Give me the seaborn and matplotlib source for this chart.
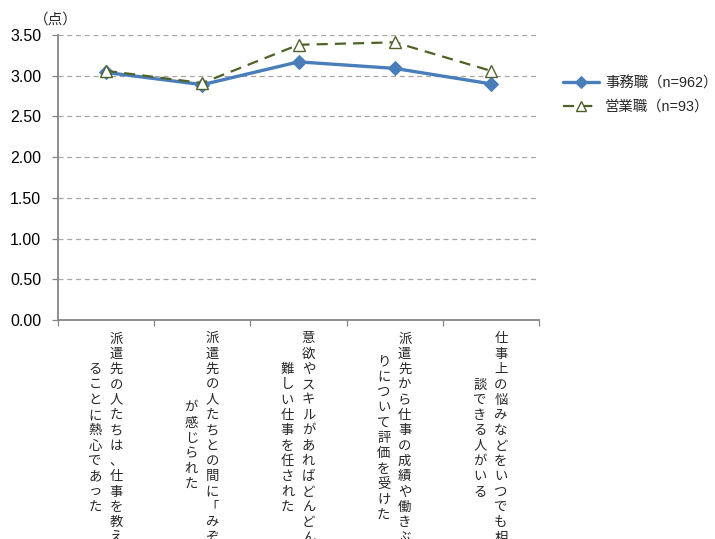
import matplotlib
matplotlib.use("Agg")
import matplotlib.pyplot as plt
import matplotlib.transforms as mtransforms
import seaborn as sns
import pandas as pd

# Survey items (each split into two vertical columns, right column first)
categories = ["仕事を教える熱心さ", "みぞ", "難しい仕事", "評価", "相談相手"]
label_lines = [
    ["派遣先の人たちは、仕事を教え", "ることに熱心であった"],
    ["派遣先の人たちとの間に「みぞ」", "が感じられた"],
    ["意欲やスキルがあればどんどん", "難しい仕事を任された"],
    ["派遣先から仕事の成績や働きぶ", "りについて評価を受けた"],
    ["仕事上の悩みなどをいつでも相", "談できる人がいる"],
]
series_names = ["事務職（n=962）", "営業職（n=93）"]
office_scores = [3.04, 2.89, 3.17, 3.09, 2.90]
sales_scores = [3.06, 2.91, 3.38, 3.41, 3.06]
y_ticks = [0.0, 0.5, 1.0, 1.5, 2.0, 2.5, 3.0, 3.5]

sns.set_theme(style="white")
plt.rcParams["font.family"] = ["Liberation Sans", "Noto Sans CJK JP", "DejaVu Sans"]

df = pd.DataFrame({
    "pos": list(range(len(categories))) * 2,
    "score": office_scores + sales_scores,
    "group": [series_names[0]] * len(categories) + [series_names[1]] * len(categories),
})

fig = plt.figure(figsize=(7.15, 5.39), dpi=100)
ax = fig.add_axes([58 / 715, 1 - 320 / 539, 481 / 715, 285 / 539])

blue = "#4A7EBB"
olive = "#4F6228"

sns.lineplot(data=df[df.group == series_names[0]], x="pos", y="score", ax=ax,
             color=blue, linewidth=2.4, marker="D", markersize=7,
             markeredgecolor=blue, markerfacecolor=blue, label=series_names[0])
sns.lineplot(data=df[df.group == series_names[1]], x="pos", y="score", ax=ax,
             color=olive, linewidth=1.6, marker="^", markersize=8,
             markeredgecolor=olive, markerfacecolor="white", markeredgewidth=1.0,
             dashes=False, label=series_names[1])
ax.get_lines()[1].set_dashes([5, 3.2])

ax.set_xlim(-0.5, len(categories) - 0.5)
ax.set_ylim(0, 3.5)
ax.set_yticks(y_ticks)
ax.set_yticklabels([f"{v:.2f}" for v in y_ticks], fontsize=11.5)
ax.set_xlabel("")
ax.set_ylabel("")

# dashed horizontal grid
for v in y_ticks[1:]:
    ax.axhline(v, color="#A6A6A6", linewidth=0.9, linestyle=(0, (4, 3)), zorder=0)

for side in ["top", "right"]:
    ax.spines[side].set_visible(False)
for side in ["left", "bottom"]:
    ax.spines[side].set_color("#868686")
    ax.spines[side].set_linewidth(1.3)

ax.tick_params(axis="y", which="major", left=True, length=4, width=0.9,
               color="#868686", pad=8, labelcolor="black")
ax.set_xticks(range(len(categories)))
ax.set_xticklabels([])
ax.tick_params(axis="x", which="major", length=0)
ax.set_xticks([i - 0.5 for i in range(len(categories) + 1)], minor=True)
ax.tick_params(axis="x", which="minor", bottom=True, length=4, width=0.9,
               color="#868686")

# stacked vertical category labels
pitch_px = 15.0
for i, lines in enumerate(label_lines):
    n_long = max(len(s) for s in lines)
    center_px = 13 + n_long * pitch_px / 2
    for j, text in enumerate(lines):
        dx = (10 - 21 * j) / 100
        off = mtransforms.ScaledTranslation(dx, -center_px / 100, fig.dpi_scale_trans)
        trans = mtransforms.blended_transform_factory(ax.transData, ax.transAxes) + off
        ax.text(i, 0, "\n".join(text), transform=trans, ha="center", va="center",
                multialignment="center", fontsize=9.6, linespacing=1.12,
                family=["Noto Sans CJK JP"], clip_on=False)

fig.text(56 / 715, 1 - 20 / 539, "（点）", ha="center", va="center",
         fontsize=10.5, family=["Noto Sans CJK JP"])

leg = ax.legend(loc="center left", bbox_to_anchor=(563 / 715, 1 - 95 / 539),
                bbox_transform=fig.transFigure, frameon=False, fontsize=10.4,
                handlelength=2.5, handletextpad=0.4, labelspacing=0.65,
                borderaxespad=0, borderpad=0)
leg.legend_handles[1].set_markersize(6.5)
leg.legend_handles[0].set_markersize(6.5)
for t in leg.get_texts():
    t.set_family(["Liberation Sans", "Noto Sans CJK JP"])

fig.savefig("out.png", dpi=100)
